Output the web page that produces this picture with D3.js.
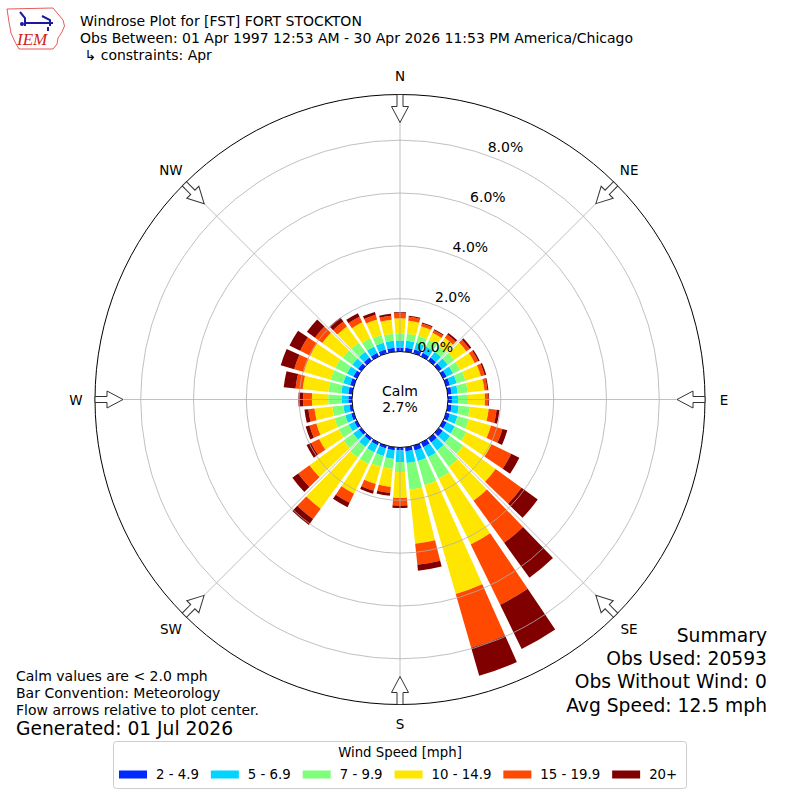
<!DOCTYPE html>
<html>
<head>
<meta charset="utf-8">
<script src="https://cdn.jsdelivr.net/npm/d3@7"></script>
<style>
  body { margin: 0; background: #fff; }
  text { font-family: "DejaVu Sans", sans-serif; fill: #000; }
</style>
</head>
<body>
<div id="chart"></div>
<script>
// Direction each bar points to (degrees, where the wind comes from)
const directions = [0, 10, 20, 30, 40, 50, 60, 70, 80, 90, 100, 110, 120, 130, 140, 150, 160, 170,
                    180, 190, 200, 210, 220, 230, 240, 250, 260, 270, 280, 290, 300, 310, 320, 330, 340, 350];

// Speed bins (mph) and the percent of obs per direction
const speedBins = ["2 - 4.9", "5 - 6.9", "7 - 9.9", "10 - 14.9", "15 - 19.9", "20+"];
const pct2to5   = [0.15,0.15,0.15,0.15,0.15,0.15,0.15,0.15,0.15,0.15,0.15,0.15,0.15,0.19,0.19,0.19,0.19,0.15,
                   0.11,0.11,0.11,0.11,0.11,0.11,0.11,0.11,0.11,0.14,0.15,0.15,0.15,0.15,0.15,0.15,0.15,0.15];
const pct5to7   = [0.27,0.27,0.27,0.27,0.27,0.27,0.27,0.27,0.23,0.23,0.27,0.30,0.34,0.34,0.38,0.42,0.42,0.45,
                   0.44,0.34,0.30,0.30,0.30,0.27,0.23,0.23,0.23,0.25,0.27,0.27,0.27,0.27,0.27,0.27,0.27,0.27];
const pct7to10  = [0.27,0.27,0.27,0.27,0.27,0.30,0.30,0.34,0.38,0.38,0.42,0.45,0.49,0.61,0.76,0.91,0.95,1.02,
                   0.38,0.38,0.42,0.49,0.49,0.45,0.42,0.42,0.42,0.51,0.49,0.49,0.49,0.45,0.42,0.34,0.30,0.27];
const pct10to15 = [0.57,0.49,0.38,0.30,0.38,0.57,0.61,0.61,0.64,0.64,0.72,0.87,1.06,1.52,1.59,2.77,4.28,2.05,
                   0.98,0.68,0.68,1.25,2.39,1.59,0.83,0.72,0.68,0.62,0.98,1.06,1.06,0.95,0.76,0.68,0.61,0.53];
const pct15to20 = [0.19,0.15,0.11,0.11,0.15,0.15,0.15,0.15,0.11,0.13,0.30,0.45,0.83,1.21,1.97,2.54,2.12,0.80,
                   0.29,0.23,0.27,0.38,0.49,0.53,0.34,0.27,0.23,0.33,0.27,0.38,0.42,0.34,0.23,0.23,0.19,0.15];
const pct20plus = [0.04,0.04,0.04,0.04,0.08,0.08,0.06,0.06,0.04,0.03,0.11,0.19,0.34,0.76,1.63,1.86,1.10,0.23,
                   0.09,0.11,0.11,0.19,0.27,0.27,0.19,0.15,0.15,0.18,0.45,0.53,0.45,0.38,0.19,0.15,0.11,0.08];

const ringTicks = [0, 2, 4, 6, 8];
const compassLabels = ["N", "NE", "E", "SE", "S", "SW", "W", "NW"];
const compassAngles = [0, 45, 90, 135, 180, 225, 270, 315];
const calmPct = 2.7;

const titleLines = ["Windrose Plot for [FST] FORT STOCKTON",
                    "Obs Between: 01 Apr 1997 12:53 AM - 30 Apr 2026 11:53 PM America/Chicago",
                    "\u21b3 constraints: Apr"];
const noteLines = ["Calm values are < 2.0 mph", "Bar Convention: Meteorology", "Flow arrows relative to plot center."];
const generatedText = "Generated: 01 Jul 2026";
const summaryLines = ["Summary", "Obs Used: 20593", "Obs Without Wind: 0", "Avg Speed: 12.5 mph"];

// jet-like colours for the speed bins
const binColors = ["#0028ff", "#00d4ff", "#7dff7a", "#ffe600", "#ff4800", "#800000"];

const width = 800, height = 800;
const cx = 400, cy = 399.5;

const svg = d3.select("#chart").append("svg")
    .attr("width", width)
    .attr("height", height);

svg.append("rect").attr("width", width).attr("height", height).attr("fill", "#fff");

// stack the speed bins for each direction
const keys = ["b0", "b1", "b2", "b3", "b4", "b5"];
const series = [pct2to5, pct5to7, pct7to10, pct10to15, pct15to20, pct20plus];
const rows = directions.map((d, i) => {
  const row = { dir: d };
  keys.forEach((k, j) => row[k] = series[j][i]);
  return row;
});
const stacked = d3.stack().keys(keys)(rows);

// radial scale: percent -> pixels (0% sits on the calm circle)
const r = d3.scaleLinear().domain([0, 9.73]).range([48, 305]);
const ang = d3.scaleLinear().domain([0, 360]).range([0, 2 * Math.PI]);
const halfBar = 4; // degrees

const plot = svg.append("g").attr("transform", "translate(" + cx + "," + cy + ")");

const arc = d3.arc();
plot.selectAll(".layer")
  .data(stacked)
  .enter().append("g")
    .attr("class", "layer")
    .attr("fill", (d, i) => binColors[i])
  .selectAll("path")
  .data(d => d)
  .enter().append("path")
    .attr("d", d => arc({
      innerRadius: r(d[0]),
      outerRadius: r(d[1]),
      startAngle: ang(d.data.dir - halfBar),
      endAngle: ang(d.data.dir + halfBar)
    }));

// grid circles and spokes
plot.selectAll(".ring")
  .data(ringTicks.filter(t => t > 0))
  .enter().append("circle")
    .attr("r", d => r(d))
    .attr("fill", "none")
    .attr("stroke", "#b0b0b0")
    .attr("stroke-width", 0.8);

plot.selectAll(".spoke")
  .data(compassAngles)
  .enter().append("line")
    .attr("x1", d => r(0) * Math.sin(ang(d)))
    .attr("y1", d => -r(0) * Math.cos(ang(d)))
    .attr("x2", d => r(9.73) * Math.sin(ang(d)))
    .attr("y2", d => -r(9.73) * Math.cos(ang(d)))
    .attr("stroke", "#b0b0b0")
    .attr("stroke-width", 0.8);

// outer frame
plot.append("circle")
  .attr("r", r(9.73))
  .attr("fill", "none")
  .attr("stroke", "#000")
  .attr("stroke-width", 1);

// calm circle
plot.append("circle")
  .attr("r", r(0))
  .attr("fill", "#fff")
  .attr("stroke", "#000")
  .attr("stroke-width", 1);

plot.append("text").attr("x", 0).attr("y", -4).attr("text-anchor", "middle")
  .style("font-size", "14px").text("Calm");
plot.append("text").attr("x", 0).attr("y", 12.5).attr("text-anchor", "middle")
  .style("font-size", "14px").text(calmPct.toFixed(1) + "%");

// ring labels
const labAng = 19.4 * Math.PI / 180;
plot.selectAll(".rlab")
  .data(ringTicks)
  .enter().append("text")
    .attr("x", d => r(d) * Math.sin(labAng) + 1.5)
    .attr("y", d => -r(d) * Math.cos(labAng) - 2.5)
    .style("font-size", "14px")
    .text(d => d.toFixed(1) + "%");

// hollow flow arrows on the frame, pointing at the centre
const arrowPts = [[0, -277], [8.5, -293], [3, -293], [3, -305], [-3, -305], [-3, -293], [-8.5, -293]];
plot.selectAll(".arrow")
  .data(compassAngles)
  .enter().append("polygon")
    .attr("points", arrowPts.map(p => p.join(",")).join(" "))
    .attr("transform", d => "rotate(" + d + ")")
    .attr("fill", "#fff")
    .attr("stroke", "#333")
    .attr("stroke-width", 1);

// compass labels
plot.selectAll(".clab")
  .data(compassAngles)
  .enter().append("text")
    .attr("x", d => 324 * Math.sin(ang(d)))
    .attr("y", d => -324 * Math.cos(ang(d)))
    .attr("text-anchor", "middle")
    .attr("dominant-baseline", "central")
    .style("font-size", "13.5px")
    .text((d, i) => compassLabels[i]);

// title block
svg.selectAll(".title")
  .data(titleLines)
  .enter().append("text")
    .attr("x", (d, i) => i == 2 ? 84.5 : 80)
    .attr("y", (d, i) => [25.5, 43, 59.5][i])
    .style("font-size", "14px")
    .text(d => d);

// IEM logo (rough)
const logo = svg.append("g");
logo.append("path")
  .attr("d", "M7,9 L53,8 L58,14 L63,20 L64.5,26 L62,32 L58,38 L57,44 L53,49 L19,49 L15,42 L11,33 L9,22 Z")
  .attr("fill", "none").attr("stroke", "#e03030").attr("stroke-width", 0.8);
logo.append("path")
  .attr("d", "M25,23 L53,23 M42,16 L50,20 L50,26 M20,12 L25,18 L25,26 M48,27 L48,31")
  .attr("fill", "none").attr("stroke", "#1a1aa0").attr("stroke-width", 2);
logo.append("circle").attr("cx", 22).attr("cy", 24).attr("r", 2).attr("fill", "#1a1aa0");
logo.append("text").attr("x", 17).attr("y", 45)
  .style("font-family", "'Liberation Serif', serif").style("font-style", "italic")
  .style("font-size", "17px").style("fill", "#d42020").text("IEM");

// notes bottom left
svg.selectAll(".note")
  .data(noteLines)
  .enter().append("text")
    .attr("x", 16)
    .attr("y", (d, i) => 681 + i * 17)
    .style("font-size", "14px")
    .text(d => d);
svg.append("text").attr("x", 16).attr("y", 734.5)
  .style("font-size", "18.7px").text(generatedText);

// summary bottom right
svg.selectAll(".summary")
  .data(summaryLines)
  .enter().append("text")
    .attr("x", 767)
    .attr("y", (d, i) => 641.5 + i * 23.4)
    .attr("text-anchor", "end")
    .style("font-size", "18.7px")
    .text(d => d);

// legend
const legend = svg.append("g");
legend.append("rect")
  .attr("x", 113.5).attr("y", 741.5).attr("width", 573).attr("height", 47).attr("rx", 3)
  .attr("fill", "#fff").attr("stroke", "#cccccc").attr("stroke-width", 1);
legend.append("text").attr("x", 400).attr("y", 757).attr("text-anchor", "middle")
  .style("font-size", "13.3px").text("Wind Speed [mph]");

let lx = 119;
speedBins.forEach((lab, i) => {
  legend.append("rect")
    .attr("x", lx).attr("y", 770.5).attr("width", 28).attr("height", 8)
    .attr("fill", binColors[i]);
  const t = legend.append("text")
    .attr("x", lx + 37).attr("y", 779)
    .style("font-size", "13.3px")
    .text(lab);
  lx = lx + 37 + t.node().getComputedTextLength() + 12;
});
</script>
</body>
</html>
